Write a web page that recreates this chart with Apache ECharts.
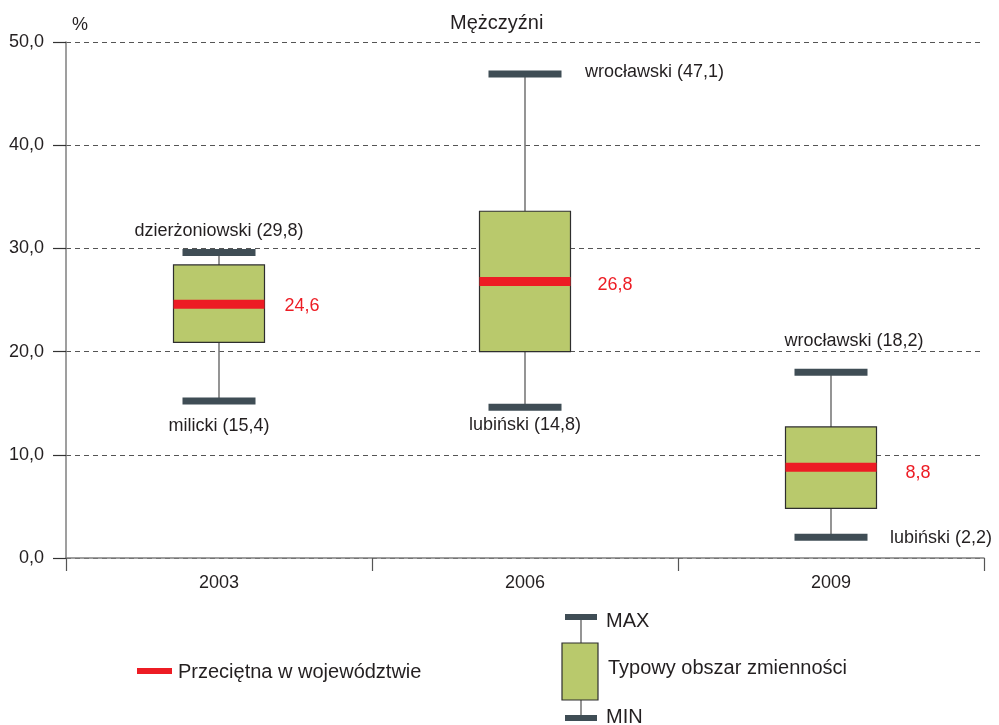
<!DOCTYPE html>
<html>
<head>
<meta charset="utf-8">
<script src="https://cdn.jsdelivr.net/npm/echarts@6/dist/echarts.min.js"></script>
<style>
html,body{margin:0;padding:0;background:#fff;}
#c{width:999px;height:725px;}
</style>
</head>
<body>
<div id="c"></div>
<script>
// ---- data ----
const categories = ['2003', '2006', '2009'];
const minVals = [15.4, 14.8, 2.2];
const q1Vals = [20.9, 20.0, 4.8];
const avgVals = [24.6, 26.8, 8.8];
const q3Vals = [28.4, 33.6, 12.7];
const maxVals = [29.8, 47.1, 18.2];
const maxNames = ['dzierżoniowski', 'wrocławski', 'wrocławski'];
const minNames = ['milicki', 'lubiński', 'lubiński'];
const yTicks = [0, 10, 20, 30, 40, 50];

const fmt = v => v.toFixed(1).replace('.', ',');

// label placement (layout only)
const maxLabelLayout = [
  {dx: 0, dy: -19, align: 'center'},
  {dx: 60, dy: 0, align: 'left'},
  {dx: 23, dy: -29, align: 'center'}
];
const minLabelLayout = [
  {dx: 0, dy: 27, align: 'center'},
  {dx: 0, dy: 20, align: 'center'},
  {dx: 59, dy: 3, align: 'left'}
];
const avgLabelDx = [20, 27, 29];
const avgLabelDy = [2, 4, 6];

const TXT = '#231f20';
const FONT = "'Liberation Sans', Arial, sans-serif";
const BOX_FILL = '#b9c96c';
const CAP = '#3f4d55';
const RED = '#ed1c24';

const seriesData = categories.map((c, i) => [i, minVals[i], q1Vals[i], avgVals[i], q3Vals[i], maxVals[i]]);

function textEl(text, x, y, align, color, size) {
  return {
    type: 'text',
    style: {
      text: text, x: x, y: y,
      fill: color || TXT,
      font: (size || 18) + 'px ' + FONT,
      align: align, textAlign: align,
      verticalAlign: 'middle', textVerticalAlign: 'middle'
    }
  };
}

function renderItem(params, api) {
  const i = api.value(0);
  const pMin = api.coord([i, api.value(1)]);
  const pQ1 = api.coord([i, api.value(2)]);
  const pAvg = api.coord([i, api.value(3)]);
  const pQ3 = api.coord([i, api.value(4)]);
  const pMax = api.coord([i, api.value(5)]);
  const cx = pMin[0];
  const boxW = 91, capW = 73, capH = 7, medH = 9, capOff = 2;
  const children = [];
  // whiskers
  children.push({type: 'line', shape: {x1: cx, y1: pMax[1] + capOff, x2: cx, y2: pQ3[1]}, style: {stroke: '#7a7a7a', lineWidth: 1.6}});
  children.push({type: 'line', shape: {x1: cx, y1: pQ1[1], x2: cx, y2: pMin[1] + capOff}, style: {stroke: '#7a7a7a', lineWidth: 1.6}});
  // box
  children.push({type: 'rect', shape: {x: cx - boxW / 2, y: pQ3[1], width: boxW, height: pQ1[1] - pQ3[1]}, style: {fill: BOX_FILL, stroke: '#2e2e2e', lineWidth: 1.2}});
  // average
  children.push({type: 'rect', shape: {x: cx - boxW / 2, y: pAvg[1] - medH / 2, width: boxW, height: medH}, style: {fill: RED}});
  // caps
  children.push({type: 'rect', shape: {x: cx - capW / 2, y: pMax[1] + capOff - capH / 2, width: capW, height: capH}, style: {fill: CAP}});
  children.push({type: 'rect', shape: {x: cx - capW / 2, y: pMin[1] + capOff - capH / 2, width: capW, height: capH}, style: {fill: CAP}});
  // labels
  const ml = maxLabelLayout[i], nl = minLabelLayout[i];
  children.push(textEl(maxNames[i] + ' (' + fmt(api.value(5)) + ')', cx + ml.dx, pMax[1] + ml.dy, ml.align));
  children.push(textEl(minNames[i] + ' (' + fmt(api.value(1)) + ')', cx + nl.dx, pMin[1] + nl.dy, nl.align));
  children.push(textEl(fmt(api.value(3)), cx + boxW / 2 + avgLabelDx[i], pAvg[1] + avgLabelDy[i], 'left', RED));
  return {type: 'group', children: children};
}

const chart = echarts.init(document.getElementById('c'));
chart.setOption({
  animation: false,
  backgroundColor: '#ffffff',
  title: {
    text: 'Mężczyźni',
    left: 445, top: 8,
    textStyle: {fontFamily: FONT, fontSize: 20, fontWeight: 'normal', color: TXT}
  },
  grid: {left: 66, right: 15, top: 42, bottom: 167, containLabel: false},
  xAxis: {
    type: 'category',
    data: categories,
    boundaryGap: true,
    axisLine: {lineStyle: {color: '#7f7f7f', width: 1.5}},
    axisTick: {show: true, length: 13, lineStyle: {color: '#555', width: 1.2}},
    axisLabel: {fontFamily: FONT, fontSize: 18, color: TXT, margin: 16},
    splitLine: {show: false}
  },
  yAxis: {
    type: 'value',
    min: yTicks[0], max: yTicks[yTicks.length - 1], interval: 10,
    name: '%',
    nameLocation: 'end',
    nameGap: 8,
    nameTextStyle: {fontFamily: FONT, fontSize: 18, color: TXT, align: 'left', padding: [0, 0, 0, 6]},
    axisLine: {show: true, lineStyle: {color: '#7f7f7f', width: 1.5}},
    axisTick: {show: true, length: 13, lineStyle: {color: '#333', width: 1.2}},
    axisLabel: {fontFamily: FONT, fontSize: 18, color: TXT, margin: 22, formatter: v => fmt(v)},
    splitLine: {show: true, lineStyle: {color: '#555', type: [5, 4], width: 1}}
  },
  series: [{
    type: 'custom',
    renderItem: renderItem,
    encode: {x: 0, y: [1, 5]},
    data: seriesData,
    clip: false,
    z: 5
  }],
  graphic: [
    // average legend
    {type: 'rect', shape: {x: 137, y: 668, width: 35, height: 6}, style: {fill: RED}},
    {type: 'text', style: {text: 'Przeciętna w województwie', x: 178, y: 672, font: '20px ' + FONT, fill: TXT, verticalAlign: 'middle', textVerticalAlign: 'middle'}},
    // box legend
    {type: 'line', shape: {x1: 581, y1: 619, x2: 581, y2: 643}, style: {stroke: '#7a7a7a', lineWidth: 1.6}},
    {type: 'line', shape: {x1: 581, y1: 700, x2: 581, y2: 716}, style: {stroke: '#7a7a7a', lineWidth: 1.6}},
    {type: 'rect', shape: {x: 562, y: 643, width: 36, height: 57}, style: {fill: BOX_FILL, stroke: '#2e2e2e', lineWidth: 1.2}},
    {type: 'rect', shape: {x: 565, y: 614, width: 32, height: 6}, style: {fill: CAP}},
    {type: 'rect', shape: {x: 565, y: 715, width: 32, height: 6}, style: {fill: CAP}},
    {type: 'text', style: {text: 'MAX', x: 606, y: 621, font: '20px ' + FONT, fill: TXT, verticalAlign: 'middle', textVerticalAlign: 'middle'}},
    {type: 'text', style: {text: 'Typowy obszar zmienności', x: 608, y: 668, font: '20px ' + FONT, fill: TXT, verticalAlign: 'middle', textVerticalAlign: 'middle'}},
    {type: 'text', style: {text: 'MIN', x: 606, y: 717, font: '20px ' + FONT, fill: TXT, verticalAlign: 'middle', textVerticalAlign: 'middle'}}
  ]
});
</script>
</body>
</html>
